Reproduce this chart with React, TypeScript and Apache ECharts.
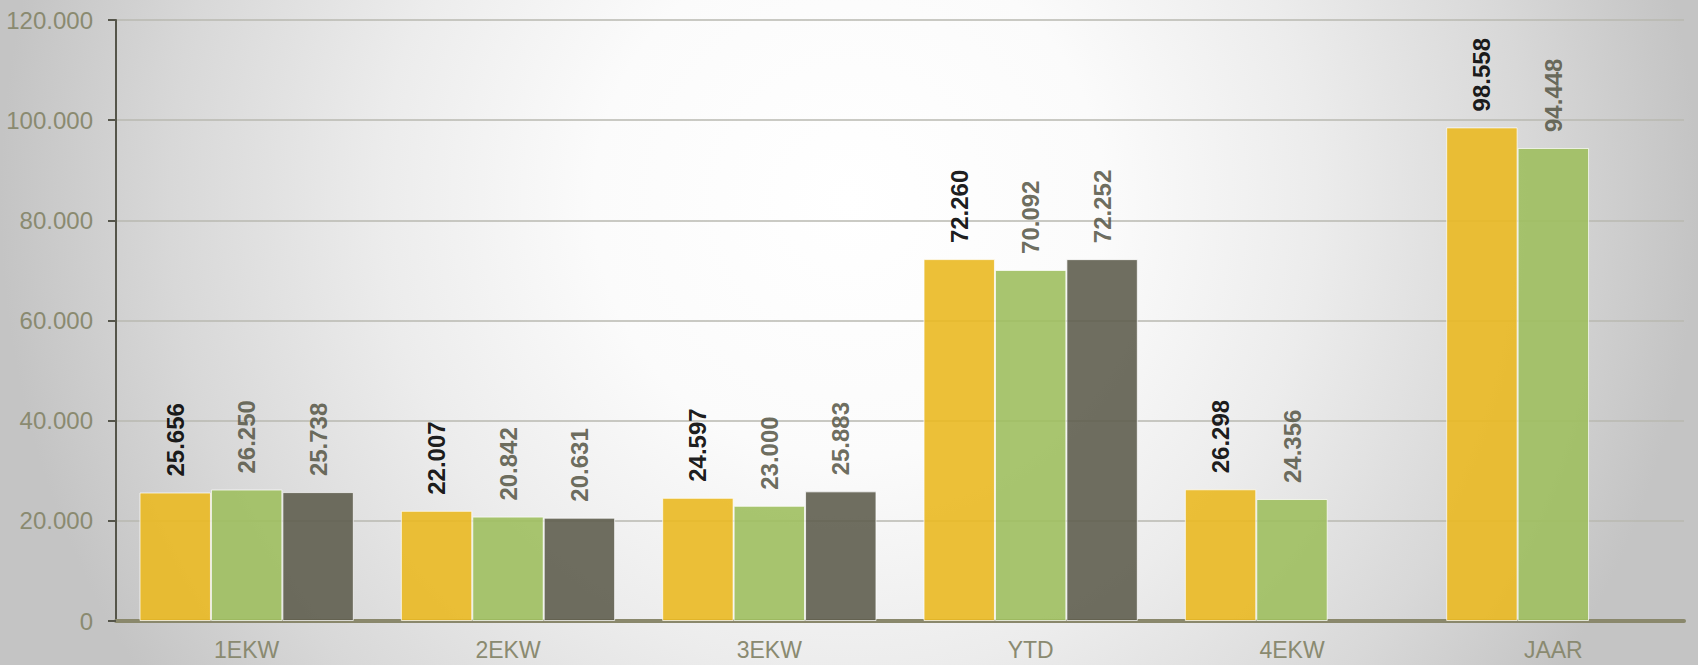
import React, { useEffect, useRef } from "react";
import * as echarts from "echarts";

const categories = ["1EKW", "2EKW", "3EKW", "YTD", "4EKW", "JAAR"];
const seriesA = [25656, 22007, 24597, 72260, 26298, 98558];
const seriesB = [26250, 20842, 23000, 70092, 24356, 94448];
const seriesC: (number | null)[] = [25738, 20631, 25883, 72252, null, null];
const yTicks = { min: 0, max: 120000, interval: 20000 };

const fmt = (v: number) => String(Math.round(v)).replace(/\B(?=(\d{3})+(?!\d))/g, ".");

export default function App() {
  const ref = useRef<HTMLDivElement>(null);
  useEffect(() => {
    document.body.style.margin = "0";
    const chart = echarts.init(ref.current!, null, { renderer: "svg" });
    const label = (color: string) => ({
      show: true,
      position: "top" as const,
      rotate: 90,
      align: "left" as const,
      verticalAlign: "middle" as const,
      distance: 16,
      fontSize: 24,
      fontWeight: "bold" as const,
      fontFamily: "Liberation Sans, Arial, sans-serif",
      color,
      formatter: (p: any) => fmt(p.value),
    });
    const mk = (name: string, data: (number | null)[], color: string, lc: string) => ({
      name,
      type: "bar" as const,
      data,
      barGap: "0%",
      barCategoryGap: "18%",
      itemStyle: { color, opacity: 0.9, borderColor: "rgba(255,255,255,0.8)", borderWidth: 1 },
      label: label(lc),
    });
    chart.setOption({
      animation: false,
      backgroundColor: "transparent",
      grid: { left: 116, right: 14, top: 20, bottom: 44 },
      xAxis: {
        type: "category",
        data: categories,
        axisLine: { lineStyle: { color: "#8a886c", width: 4 } },
        axisTick: { show: false },
        axisLabel: {
          color: "#8a8a70",
          fontSize: 23,
          fontFamily: "Liberation Sans, Arial, sans-serif",
          margin: 17,
        },
      },
      yAxis: {
        type: "value",
        min: yTicks.min,
        max: yTicks.max,
        interval: yTicks.interval,
        axisLine: { show: true, lineStyle: { color: "#55554a", width: 2 } },
        axisTick: { show: true, length: 8, lineStyle: { color: "#55554a", width: 2 } },
        splitLine: { lineStyle: { color: "#b8b8b0", width: 1.5 } },
        axisLabel: {
          color: "#8a8a70",
          fontSize: 24,
          fontFamily: "Liberation Sans, Arial, sans-serif",
          margin: 23,
          formatter: (v: number) => fmt(v),
        },
      },
      series: [
        mk("A", seriesA, "#eab922", "#000000"),
        mk("B", seriesB, "#9fbf5f", "#5a5a4a"),
        mk("C", seriesC, "#5f5e4f", "#5a5a4a"),
      ],
    });
    return () => chart.dispose();
  }, []);
  return (
    <div
      style={{
        position: "absolute",
        left: 0,
        top: 0,
        width: 1698,
        height: 665,
        background:
          "radial-gradient(ellipse 50% 130% at 50% 30%, #ffffff 0%, #fbfbfb 30%, #ececec 55%, #d8d8d8 80%, #c4c4c4 100%)",
      }}
    >
      <div ref={ref} style={{ width: 1698, height: 665 }} />
    </div>
  );
}
